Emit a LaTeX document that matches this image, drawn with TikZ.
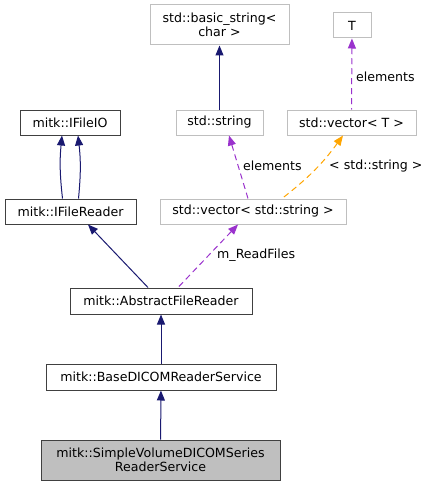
\documentclass[tikz,border=0pt]{standalone}
\usepackage{fontspec}
\setmainfont{DejaVu Sans}
\usetikzlibrary{arrows.meta}
\definecolor{navy}{HTML}{191970}
\definecolor{orchid}{HTML}{9A32CD}
\definecolor{tmplorange}{HTML}{FFA500}
\definecolor{boxgray}{HTML}{BFBFBF}
\tikzset{
  every node/.style={font=\fontsize{12.6}{14}\selectfont, inner sep=0pt, align=center},
  cls/.style={draw=black!75, line width=1pt},
  ext/.style={draw=boxgray, line width=1pt},
  inh/.style={navy, line width=1pt, {Triangle[length=10pt,width=8pt]}-},
  usage/.style={orchid, line width=1pt, dash pattern=on 6pt off 4pt, {Triangle[length=10pt,width=8pt]}-},
  tmpl/.style={tmplorange, line width=1pt, dash pattern=on 6pt off 4pt, {Triangle[length=10pt,width=8pt]}-}
}
\begin{document}
\begin{tikzpicture}[x=1pt,y=-1pt]
\useasboundingbox (0,0) rectangle (429,487);
% classes
\node[ext, minimum width=139pt, minimum height=40pt] (bstr) at (219.5,25) {std::basic\_string<\\char >};
\node[ext, minimum width=38pt, minimum height=25pt] (T) at (352,25.5) {T};
\node[cls, minimum width=100pt, minimum height=25pt] (fileio) at (70,122.5) {mitk::IFileIO};
\node[ext, minimum width=87pt, minimum height=25pt] (str) at (219.5,122.5) {std::string};
\node[ext, minimum width=129pt, minimum height=25pt] (vecT) at (351.5,122.5) {std::vector< T >};
\node[cls, minimum width=131pt, minimum height=25pt] (ireader) at (70.5,211.5) {mitk::IFileReader};
\node[ext, minimum width=186pt, minimum height=25pt] (vecstr) at (253,211.5) {std::vector< std::string >};
\node[cls, minimum width=182pt, minimum height=26pt] (abstract) at (161,301) {mitk::AbstractFileReader};
\node[cls, minimum width=230pt, minimum height=26pt] (base) at (161,377) {mitk::BaseDICOMReaderService};
\node[cls, fill=boxgray, minimum width=239pt, minimum height=40pt] (simple) at (160.5,460) {mitk::SimpleVolumeDICOMSeries\\ReaderService};
% inheritance
\draw[inh] (bstr) -- (str);
\draw[inh] ([xshift=-8pt]fileio.south) to[bend right=6] ([xshift=-8pt]ireader.north);
\draw[inh] ([xshift=8pt]fileio.south) to[bend left=6] ([xshift=8pt]ireader.north);
\draw[inh] ([xshift=17.5pt]ireader.south) -- ([xshift=-13pt]abstract.north);
\draw[inh] (abstract) -- (base);
\draw[inh] (base) -- (simple);
% members
\draw[usage] (T) -- (vecT);
\node[anchor=west] (lbl0) at (356,77) {elements};
\draw[usage] ([xshift=9.5pt]str.south) -- ([xshift=-5pt]vecstr.north);
\node[anchor=west] (lbl1) at (243,166) {elements};
\draw[tmpl] ([xshift=-8.5pt]vecT.south) to[bend left=8] ([xshift=29pt]vecstr.north);
\node[anchor=west] (lbl2) at (329,166) {< std::string >};
\draw[usage] ([xshift=-15pt]vecstr.south) -- ([xshift=17pt]abstract.north);
\node[anchor=west] (lbl3) at (217,255) {m\_ReadFiles};
\end{tikzpicture}
\end{document}
